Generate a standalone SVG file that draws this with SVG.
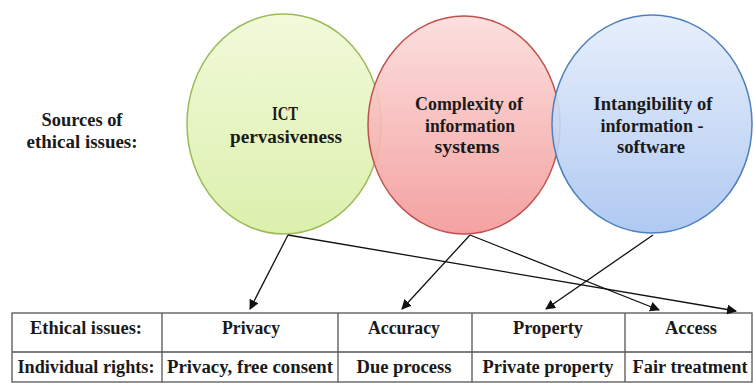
<svg xmlns="http://www.w3.org/2000/svg" width="754" height="383" viewBox="0 0 754 383">
<defs>
<linearGradient id="gG" x1="0" y1="0" x2="0" y2="1"><stop offset="0" stop-color="#f0f9d6"/><stop offset="1" stop-color="#d8eea4"/></linearGradient>
<linearGradient id="gR" x1="0" y1="0" x2="0" y2="1"><stop offset="0" stop-color="#fbdcdb"/><stop offset="1" stop-color="#f29897"/></linearGradient>
<linearGradient id="gB" x1="0" y1="0" x2="0" y2="1"><stop offset="0" stop-color="#e4edfb"/><stop offset="1" stop-color="#a8c4f0"/></linearGradient>
<marker id="ah" viewBox="0 0 10 10" refX="9" refY="5" markerWidth="10" markerHeight="10" markerUnits="userSpaceOnUse" orient="auto"><path d="M0,0 L10,5 L0,10 z" fill="#111"/></marker>
</defs>
<style>
text{font-family:"Liberation Serif","Times New Roman",serif;font-weight:bold;fill:#1a1a1a;text-anchor:middle}
.c{font-size:18px}
.t{font-size:18px}
.cell{fill:none;stroke:#555;stroke-width:1.3}
.con{fill:none;stroke:#111;stroke-width:1.3;marker-end:url(#ah)}
</style>
<rect width="754" height="383" fill="#fff"/>
<g id="sources-label">
<text class="c" x="82" y="126" textLength="81" lengthAdjust="spacingAndGlyphs">Sources of</text>
<text class="c" x="82" y="148" textLength="111" lengthAdjust="spacingAndGlyphs">ethical issues:</text>
</g>
<g id="ict">
<ellipse cx="284" cy="124" rx="97" ry="110" fill="url(#gG)" fill-opacity="0.9" stroke="#9bbb59" stroke-width="1.5"/>
<text class="c" x="285" y="120" textLength="26" lengthAdjust="spacingAndGlyphs">ICT</text>
<text class="c" x="286" y="143" textLength="112" lengthAdjust="spacingAndGlyphs">pervasiveness</text>
</g>
<g id="complexity">
<ellipse cx="464" cy="125" rx="96" ry="109" fill="url(#gR)" fill-opacity="0.9" stroke="#c0504d" stroke-width="1.5"/>
<text class="c" x="469" y="110" textLength="108" lengthAdjust="spacingAndGlyphs">Complexity of</text>
<text class="c" x="470" y="132" textLength="90" lengthAdjust="spacingAndGlyphs">information</text>
<text class="c" x="467" y="153" textLength="65" lengthAdjust="spacingAndGlyphs">systems</text>
</g>
<g id="intangibility">
<ellipse cx="652" cy="124" rx="100" ry="109" fill="url(#gB)" fill-opacity="0.9" stroke="#4f81bd" stroke-width="1.5"/>
<text class="c" x="653" y="110" textLength="119" lengthAdjust="spacingAndGlyphs">Intangibility of</text>
<text class="c" x="652" y="132" textLength="103" lengthAdjust="spacingAndGlyphs">information -</text>
<text class="c" x="651" y="153" textLength="68" lengthAdjust="spacingAndGlyphs">software</text>
</g>
<g id="table">
<rect class="cell" x="12" y="313" width="740" height="69"/>
<line class="cell" x1="12" y1="352" x2="752" y2="352"/>
<line class="cell" x1="162" y1="313" x2="162" y2="382"/>
<line class="cell" x1="338" y1="313" x2="338" y2="382"/>
<line class="cell" x1="472" y1="313" x2="472" y2="382"/>
<line class="cell" x1="625" y1="313" x2="625" y2="382"/>
<text class="t" x="86" y="334" textLength="112" lengthAdjust="spacingAndGlyphs">Ethical issues:</text>
<text class="t" x="251" y="334" textLength="58" lengthAdjust="spacingAndGlyphs">Privacy</text>
<text class="t" x="404" y="334" textLength="72" lengthAdjust="spacingAndGlyphs">Accuracy</text>
<text class="t" x="548" y="334" textLength="70" lengthAdjust="spacingAndGlyphs">Property</text>
<text class="t" x="691" y="334" textLength="52" lengthAdjust="spacingAndGlyphs">Access</text>
<text class="t" x="86" y="373" textLength="137" lengthAdjust="spacingAndGlyphs">Individual rights:</text>
<text class="t" x="250" y="373" textLength="166" lengthAdjust="spacingAndGlyphs">Privacy, free consent</text>
<text class="t" x="404" y="373" textLength="95" lengthAdjust="spacingAndGlyphs">Due process</text>
<text class="t" x="548" y="373" textLength="131" lengthAdjust="spacingAndGlyphs">Private property</text>
<text class="t" x="690" y="373" textLength="115" lengthAdjust="spacingAndGlyphs">Fair treatment</text>
</g>
<g id="connectors">
<line class="con" x1="288" y1="235" x2="250" y2="309"/>
<line class="con" x1="288" y1="235" x2="736" y2="311"/>
<line class="con" x1="470" y1="235" x2="402" y2="309"/>
<line class="con" x1="470" y1="235" x2="659" y2="310"/>
<line class="con" x1="653" y1="235" x2="546" y2="309"/>
</g>
</svg>
